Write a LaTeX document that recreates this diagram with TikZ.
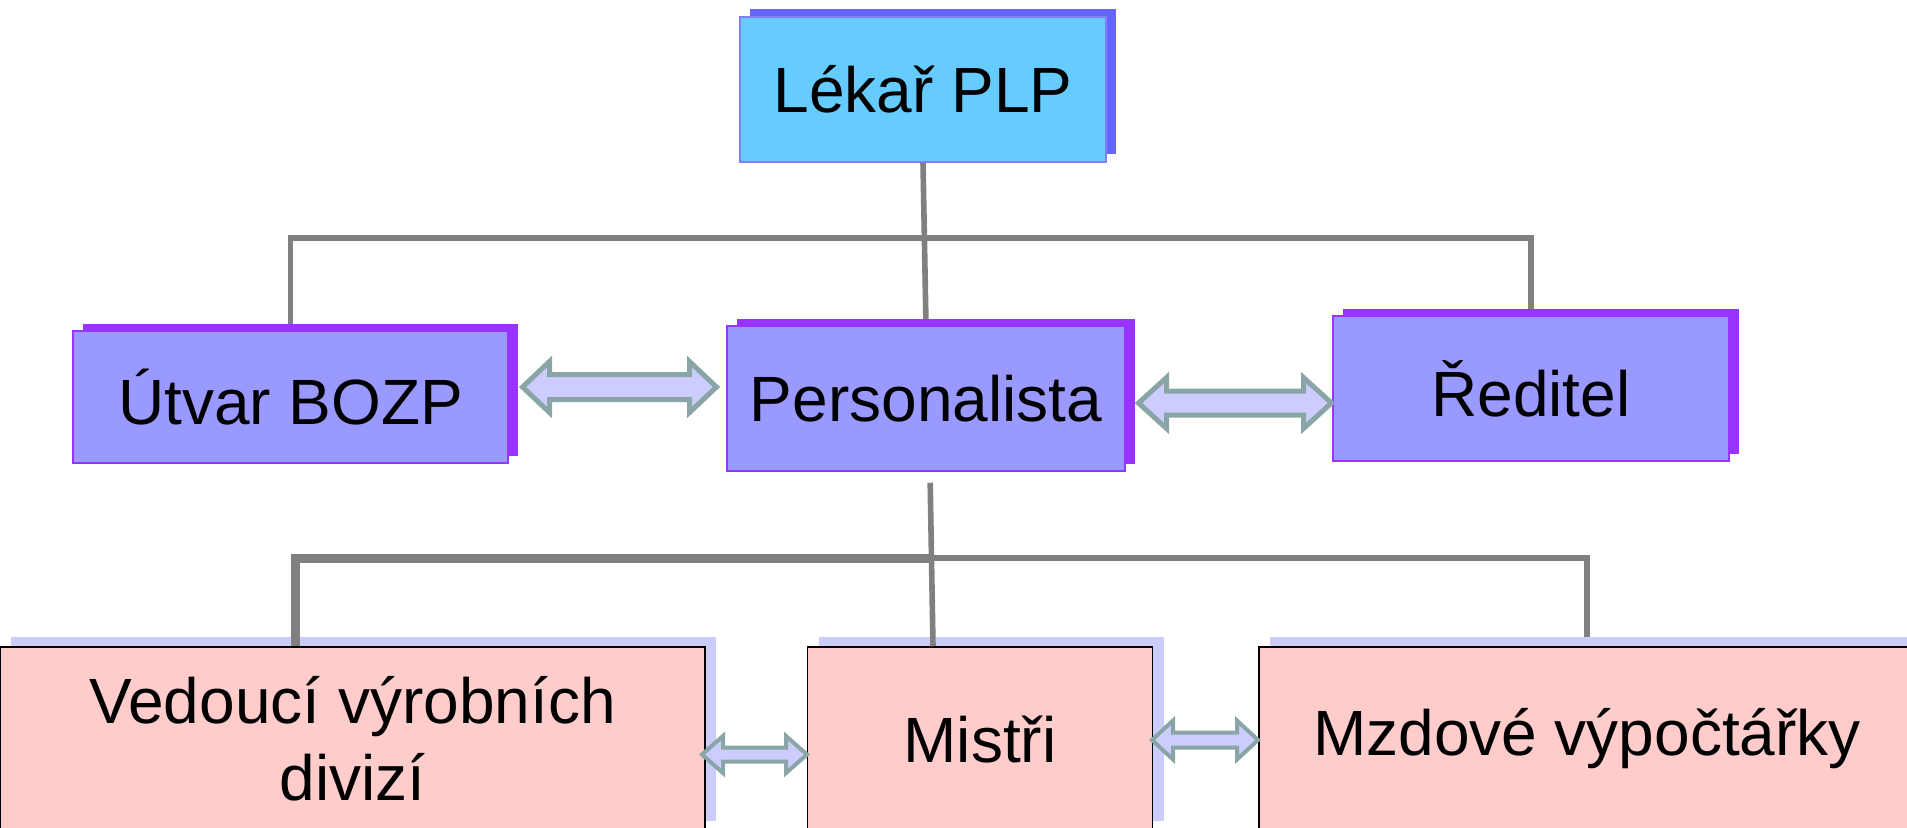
\documentclass[tikz,border=0pt]{standalone}
\usepackage{fontspec}
\setmainfont{Liberation Sans}
\usepackage{tikz}
\usetikzlibrary{shadows}
\usetikzlibrary{calc}
\pgfdeclarelayer{back}
\pgfsetlayers{back,main}

% block double arrow: tips, shaft half, head half, head length, line width
\newcommand{\twoway}[6]{\draw[twoway, line width=#6] (#1) -- ++(#5,-#4) -- ++(0,#4-#3) -- ($(#2)+(-#5,-#3)$) -- ++(0,#3-#4) -- (#2) -- ++(-#5,#4) -- ++(0,#3-#4) -- ($(#1)+(#5,#3)$) -- ++(0,#4-#3) -- cycle;}

\begin{document}
\begin{tikzpicture}[x=0.5pt, y=-0.5pt,
 every text node part/.style={align=center},
 every node/.style={font=\fontsize{32}{38.5}\selectfont},
topbox/.style={rectangle, inner sep=0pt, minimum width=183pt, minimum height=72.5pt, fill=lekfill, draw=lekline, line width=0.75pt, drop shadow={shadow xshift=5pt, shadow yshift=4pt, fill=lekshade, opacity=1}},
midbox/.style={rectangle, inner sep=0pt, minimum height=72.5pt, fill=midfill, draw=midline, line width=0.75pt, drop shadow={shadow xshift=5pt, shadow yshift=3.5pt, fill=midline, opacity=1}},
lowbox/.style={rectangle, inner sep=0pt, minimum height=92pt, fill=lowfill, draw=black, line width=0.75pt, drop shadow={shadow xshift=5.5pt, shadow yshift=5pt, fill=lowshade, opacity=1}},
tree/.style={draw=gray, line width=2.8pt},
twoway/.style={draw=arrline, fill=lowshade, line join=miter}]

    \definecolor{lekfill}{RGB}{102,204,255}
    \definecolor{lekshade}{RGB}{102,102,255}
    \definecolor{lekline}{RGB}{128,128,255}
    \definecolor{midfill}{RGB}{153,153,255}
    \definecolor{midline}{RGB}{153,51,255}
    \definecolor{lowfill}{RGB}{255,204,204}
    \definecolor{lowshade}{RGB}{204,204,255}
    \definecolor{arrline}{RGB}{138,165,165}

	\useasboundingbox (0,0) rectangle (1907,827);

	\node[topbox] (lekar) at (923,89.5) {Lékař PLP};
	\node[midbox, minimum width=217.5pt, minimum height=66pt] (bozp) at (290.5,397) {Útvar BOZP};
	\node[midbox, minimum width=199pt] (pers) at (926,398.5) {Personalista};
	\node[midbox, minimum width=198pt] (red) at (1531,388.5) {Ředitel};
	\node[lowbox, minimum width=352.5pt] (ved) at (352.5,739) {Vedoucí výrobních\\ divizí};
	\node[lowbox, minimum width=172.5pt] (mist) at (980,739) {Mistři};
	\node[lowbox, minimum width=328pt] (mzdy) at (1587,739) {Mzdové výpočtářky};

	\coordinate (topbar) at (923,238);
	\coordinate (lowbar) at (930,558);

	\begin{pgfonlayer}{back}
	\draw[tree] (bozp.north) |- (topbar) -| (red.north);
	\draw[tree] (lekar.south) -- (pers.north);
	\draw[tree] (lowbar) -| (mzdy.north);
	\end{pgfonlayer}
	\draw[tree, line width=4.5pt] ($(ved.north west)!0.42!(ved.north east)$) |- (lowbar);
	\draw[tree, shorten <=5.5pt] ($(pers.south)+(4,0)$) -- ($(pers.south |- mist.north)+(7,0)$);

	\coordinate (a1) at (522.5,387);
	\coordinate (b1) at (716.5,387);
	\coordinate (a2) at (1138.5,403);
	\coordinate (b2) at (1331.5,403);
	\coordinate (a3) at (702,754.5);
	\coordinate (b3) at (807,754.5);
	\coordinate (a4) at (1152,740);
	\coordinate (b4) at (1258,740);
	\twoway{a1}{b1}{12.5}{25.5}{27}{2.5pt}
	\twoway{a2}{b2}{12}{25.5}{28}{2.5pt}
	\twoway{a3}{b3}{7}{18.5}{21}{2pt}
	\twoway{a4}{b4}{7.5}{19.5}{21}{2pt}
\end{tikzpicture}
\end{document}
